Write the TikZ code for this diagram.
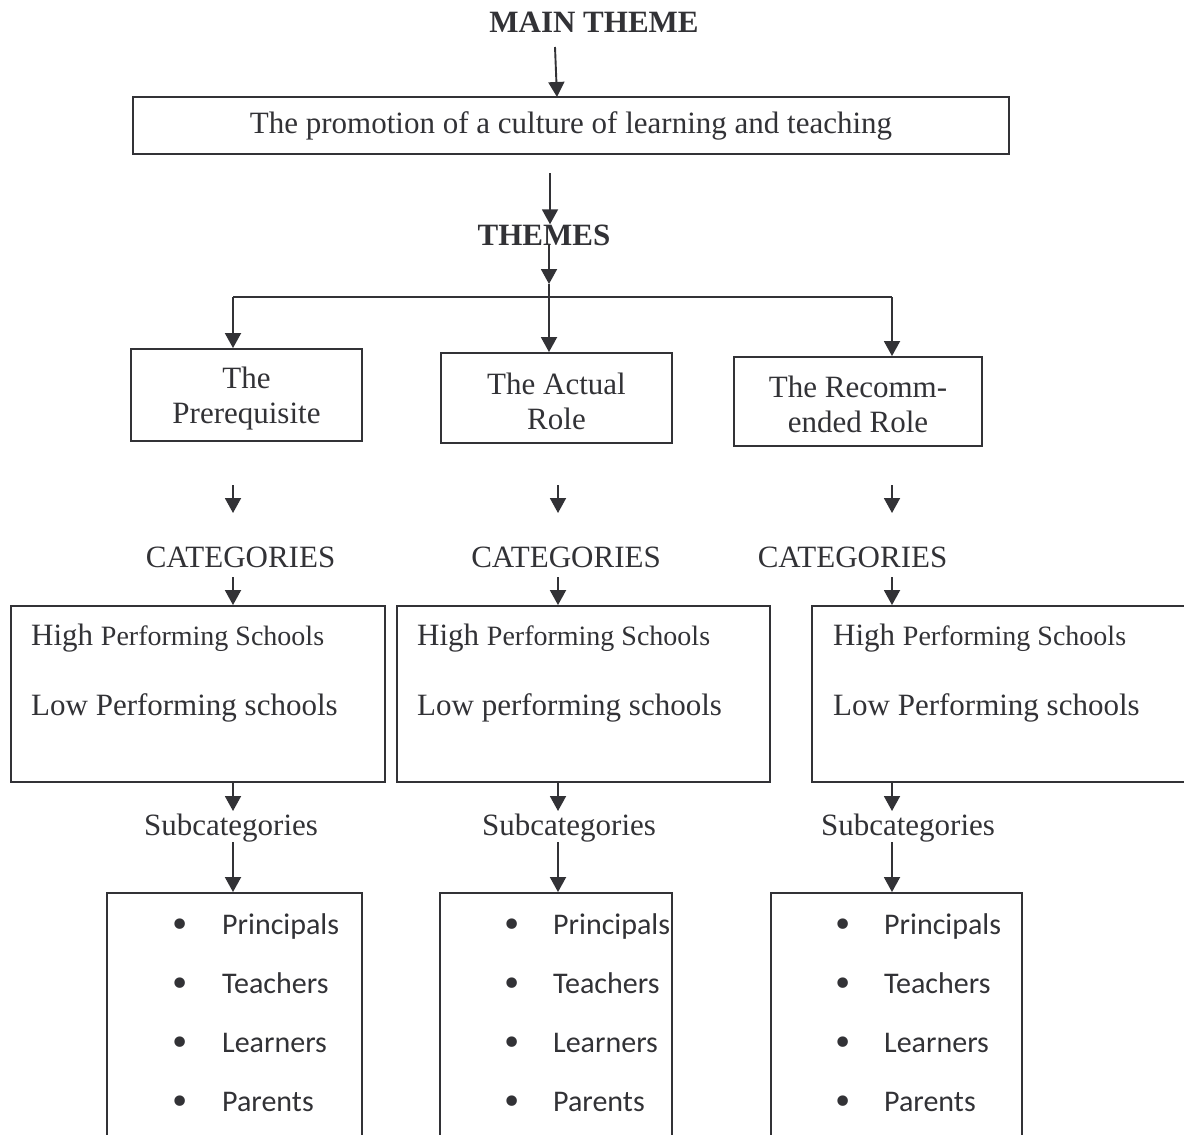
\documentclass[tikz,border=0pt]{standalone}
\usepackage{fontspec}
\setmainfont{Liberation Serif}
\newfontfamily\listfont{Carlito}
\newfontfamily\bulfont{DejaVu Sans}
\usetikzlibrary{arrows.meta}
\definecolor{ink}{RGB}{50,50,54}
\begin{document}
\begin{tikzpicture}[x=1pt,y=-1pt,
  every node/.style={text=ink, inner sep=0pt},
  box/.style={draw=ink, line width=1.9pt, rectangle},
  arr/.style={draw=ink, line width=1.9pt, -{Triangle[length=15pt,width=16pt]}},
  ln/.style={draw=ink, line width=1.9pt},
  big/.style={font=\fontsize{31}{35}\selectfont},
  bigb/.style={font=\fontsize{31}{35}\selectfont\bfseries},
  lst/.style={font=\listfont\fontsize{30}{36}\selectfont, anchor=base west},
  bul/.style={font=\bulfont\fontsize{36}{36}\selectfont, anchor=base},
]
\clip (0,0) rectangle (1184,1135);
\fill[white] (0,0) rectangle (1184,1135);

% main theme
\node[bigb, anchor=base] (mt) at (594,32) {MAIN THEME};
\node[box, big, minimum width=876pt, minimum height=57pt] (main) at (571,125.5) {The promotion of a culture of learning and teaching};
\coordinate (mt1) at (555,47);
\coordinate (mt2) at (557,97);
\draw[arr] (mt1) -- (mt2);

% themes
\node[bigb, anchor=base] (th) at (544,245) {THEMES};
\coordinate (t1) at (550,173);
\draw[arr] (t1) -- (th.north -| t1);

\node[box, minimum width=231pt, minimum height=92pt] (thP) at (246.5,395) {};
\node[box, minimum width=231pt, minimum height=90pt] (thA) at (556.5,398) {};
\node[box, minimum width=248pt, minimum height=89pt] (thR) at (858,401.5) {};
\node[big, align=center] (tP) at (246.5,399) {The\\Prerequisite};
\node[big, align=center] (tA) at (556.5,401) {The Actual\\Role};
\node[big, align=center] (tR) at (858,404) {The Recomm-\\ended Role};

\coordinate (hL) at (233,297);
\coordinate (hM) at (549,297);
\coordinate (hR) at (892,297);
\coordinate (vm1) at (549,245);
\coordinate (vm2) at (549,284);
\draw[ln] (hL) -- (hR);
\draw[arr] (vm1) -- (vm2);
\draw[ln] (vm2) -- (hM);
\draw[arr] (hM) -- (thA.north -| hM);
\draw[arr] (hL) -- (thP.north -| hL);
\draw[arr] (hR) -- (thR.north -| hR);

% short arrows below themes
\foreach \x/\n in {233/P, 558/A, 892/R}{
  \coordinate (sa\n) at (\x,485);
  \coordinate (sb\n) at (\x,513);
  \draw[arr] (sa\n) -- (sb\n);
}

% categories
\node[big, anchor=base] (cL) at (240.5,567) {CATEGORIES};
\node[big, anchor=base] (cM) at (566,567) {CATEGORIES};
\node[big, anchor=base] (cR) at (852.5,567) {CATEGORIES};

\node[box, minimum width=374pt, minimum height=176pt] (catL) at (198,694) {};
\node[box, minimum width=373pt, minimum height=176pt] (catM) at (583.5,694) {};
\node[box, minimum width=374pt, minimum height=176pt] (catR) at (999,694) {};

\foreach \x/\n in {233/L, 558/M, 892/R}{
  \coordinate (ca\n) at (\x,577);
  \draw[arr] (ca\n) -- (cat\n.north -| ca\n);
}

\node[anchor=base west] (hiL) at (31,645) {\fontsize{31}{35}\selectfont High \fontsize{28}{32}\selectfont Performing Schools};
\node[big, anchor=base west] (loL) at (31,715) {Low Performing schools};
\node[anchor=base west] (hiM) at (417,645) {\fontsize{31}{35}\selectfont High \fontsize{28}{32}\selectfont Performing Schools};
\node[big, anchor=base west] (loM) at (417,715) {Low performing schools};
\node[anchor=base west] (hiR) at (833,645) {\fontsize{31}{35}\selectfont High \fontsize{28}{32}\selectfont Performing Schools};
\node[big, anchor=base west] (loR) at (833,715) {Low Performing schools};

% subcategories
\node[big, anchor=base] (sL) at (231,835) {Subcategories};
\node[big, anchor=base] (sM) at (569,835) {Subcategories};
\node[big, anchor=base] (sR) at (908,835) {Subcategories};

\node[box, minimum width=255pt, minimum height=257pt] (bL) at (234.5,1021.5) {};
\node[box, minimum width=232pt, minimum height=257pt] (bM) at (556,1021.5) {};
\node[box, minimum width=251pt, minimum height=257pt] (bR) at (896.5,1021.5) {};

\foreach \x/\n in {233/L, 558/M, 892/R}{
  \coordinate (sc\n) at (\x,811);
  \coordinate (sd\n) at (\x,842);
  \draw[arr] (cat\n.south -| sc\n) -- (sc\n);
  \draw[arr] (sd\n) -- (b\n.north -| sd\n);
}

% lists
\foreach \bx/\tx/\nm in {180/222/L, 512/553/M, 843/884/R}{
  \foreach \y/\w [count=\i] in {934/Principals, 993/Teachers, 1052/Learners, 1111/Parents}{
    \node[bul] (u\nm\i) at (\bx,\y+3) {•};
    \node[lst] (w\nm\i) at (\tx,\y) {\w};
  }
}
\end{tikzpicture}
\end{document}
